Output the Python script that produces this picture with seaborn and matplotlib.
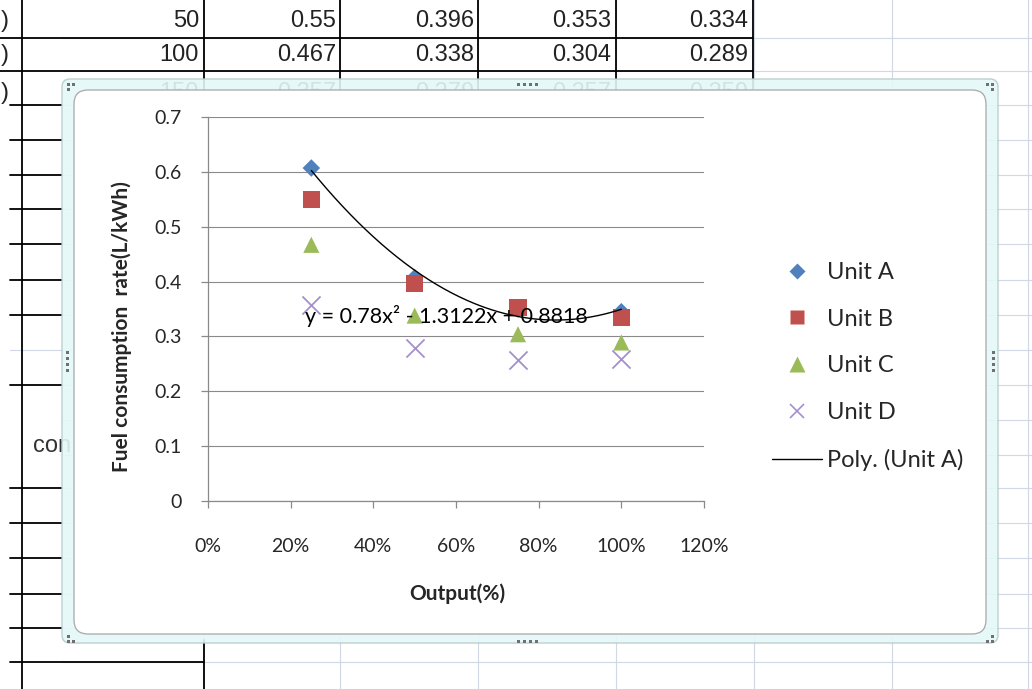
import numpy as np
import pandas as pd
import matplotlib
matplotlib.use("Agg")
import matplotlib.pyplot as plt
from matplotlib.lines import Line2D
from matplotlib.patches import FancyBboxPatch, Rectangle
from matplotlib.transforms import IdentityTransform
from matplotlib.ticker import FuncFormatter, MultipleLocator
import seaborn as sns

sns.set_style("white")
plt.rcParams['font.family'] = ['Lato', 'DejaVu Sans']

# Data (output fraction vs fuel rate)
output = [0.25, 0.50, 0.75, 1.00]
unit_a = [0.607, 0.407, 0.350, 0.345]
unit_b = [0.55, 0.396, 0.353, 0.334]
unit_c = [0.467, 0.338, 0.304, 0.289]
unit_d = [0.357, 0.279, 0.257, 0.259]
units = ["Unit A", "Unit B", "Unit C", "Unit D"]

# spreadsheet rows visible above the chart
table_loads = [50, 100, 150]
table_rows = [unit_b, unit_c, unit_d]

colors = {"Unit A": "#4f81bd", "Unit B": "#c0504d",
          "Unit C": "#9bbb59", "Unit D": "#a58fcc"}
markers = {"Unit A": "D", "Unit B": "s", "Unit C": "^", "Unit D": "x"}
sizes = {"Unit A": 80, "Unit B": 150, "Unit C": 135, "Unit D": 170}

df = pd.DataFrame({"output": output * 4,
                   "rate": unit_a + unit_b + unit_c + unit_d,
                   "unit": [u for u in units for _ in output]})

W, H = 1032, 689
fig = plt.figure(figsize=(W / 100, H / 100), dpi=100)
fig.patch.set_facecolor("white")
PIX = IdentityTransform()

def hline(y, x0, x1, color, lw=0.8, z=-5):
    fig.add_artist(Line2D([x0, x1], [H - y, H - y], transform=PIX,
                          color=color, lw=lw, zorder=z))

def vline(x, y0, y1, color, lw=0.8, z=-5):
    fig.add_artist(Line2D([x, x], [H - y0, H - y1], transform=PIX,
                          color=color, lw=lw, zorder=z))

# --- spreadsheet background
grid_c = "#d0d7e5"
rows = [38, 71, 105, 140, 175, 209, 244, 280, 315, 350, 385, 420, 455,
        488, 523, 558, 594, 628, 662]
cols = [203, 340, 478, 616, 754, 892, 1028]
for y in rows:
    hline(y, 62, W, grid_c)
hline(350, 10, 62, grid_c)
for x in cols:
    vline(x, 0, H, grid_c)

hline(38, 0, 753, "black", 1.3)
hline(71, 0, 753, "black", 1.3)
vline(22, 0, H, "black", 1.3)
for x in [204, 340, 478, 616, 753]:
    vline(x, 0, 110, "black", 1.3)
for y in [105, 140, 175, 209, 244, 280, 315, 385, 488, 523, 558, 594, 628]:
    hline(y, 10, 62, "black", 1.3)
hline(662, 10, 204, "black", 1.3)
vline(204, 640, H, "black", 1.3)

cell_font = ['Liberation Sans', 'DejaVu Sans']
col_right = [199, 336, 474, 611, 748]
for r, (load, vals) in enumerate(zip(table_loads, table_rows)):
    yc = H - (21 + 34 * r + (4 if r == 2 else 0))
    cells = [str(load)] + [str(v) for v in vals]
    for xr, s in zip(col_right, cells):
        fig.text(xr / W, yc / H, s, ha="right", va="center", fontsize=17,
                 family=cell_font, color="#222222", zorder=-4)
    fig.text(1 / W, yc / H, ")", ha="left", va="center", fontsize=17,
             family=cell_font, color="#222222", zorder=-4)
fig.text(33 / W, 1 - 446 / H, "con", ha="left", va="center", fontsize=17,
         family=cell_font, color="#333333", zorder=-4)

# --- chart frame
outer = FancyBboxPatch((62, H - 643), 936, 564, boxstyle="round,pad=0,rounding_size=8",
                       transform=PIX, facecolor="#e4f8f8", edgecolor="#b8caca",
                       lw=1, alpha=0.9, zorder=-2)
inner = FancyBboxPatch((74, H - 634), 912, 544, boxstyle="round,pad=0,rounding_size=14",
                       transform=PIX, facecolor="white", edgecolor="#a8a8a8",
                       lw=0.9, zorder=-1)
fig.add_artist(outer)
fig.add_artist(inner)

def dots(pts):
    for px, py in pts:
        fig.add_artist(Rectangle((px - 1.5, H - py - 1.5), 3, 3, transform=PIX,
                                 facecolor="#707070", edgecolor="none", zorder=-1))

dots([(68, 84), (73, 84), (68, 89), (68, 636), (68, 641), (73, 641),
      (992, 84), (987, 84), (992, 89), (992, 636), (992, 641), (987, 641)])
dots([(518 + 6 * i, 641) for i in range(4)])
dots([(518 + 6 * i, 84) for i in range(4)])
dots([(67, 352 + 6 * i) for i in range(4)])
dots([(993, 352 + 6 * i) for i in range(4)])

# --- plot area
ax = fig.add_axes([208 / W, 1 - 501 / H, 496 / W, 384 / H])
ax.set_facecolor("white")

for u in units:
    sub = df[df["unit"] == u]
    kw = dict(linewidth=1.3) if markers[u] == "x" else dict(edgecolor="none")
    sns.scatterplot(data=sub, x="output", y="rate", color=colors[u],
                    marker=markers[u], s=sizes[u], ax=ax, zorder=3, **kw)

coef = np.polyfit(output, unit_a, 2)
xs = np.linspace(min(output), max(output), 200)
ax.plot(xs, np.polyval(coef, xs), color="black", lw=1.0, zorder=4)
ax.text(0.2347, 0.337, "y = 0.78x² - 1.3122x + 0.8818", fontsize=15.5,
        va="center", ha="left", color="black", zorder=5)

ax.set_xlim(0, 1.2)
ax.set_ylim(0, 0.7)
ax.xaxis.set_major_locator(MultipleLocator(0.2))
ax.yaxis.set_major_locator(MultipleLocator(0.1))
ax.xaxis.set_major_formatter(FuncFormatter(lambda v, p: f"{v * 100:.0f}%"))
ax.yaxis.set_major_formatter(FuncFormatter(lambda v, p: "0" if v == 0 else f"{v:.1f}"))

axc = "#8a8a8a"
ax.yaxis.grid(True, color=axc, lw=0.8)
ax.xaxis.grid(False)
for s in ["top", "right"]:
    ax.spines[s].set_visible(False)
for s in ["left", "bottom"]:
    ax.spines[s].set_color(axc)
    ax.spines[s].set_linewidth(0.9)
ax.tick_params(axis="y", direction="out", length=5, width=0.9, color=axc,
               pad=14, labelsize=14, left=True)
ax.tick_params(axis="x", direction="out", length=5, width=0.9, color=axc,
               pad=22, labelsize=14, bottom=True)

ax.set_xlabel("Output(%)", fontsize=15, fontweight="bold")
ax.set_ylabel("Fuel consumption  rate(L/kWh)", fontsize=15, fontweight="bold")
ax.xaxis.set_label_coords(0.502, -0.2135)
ax.yaxis.set_label_coords(-0.153, 0.453)
ax.xaxis.label.set_va("top")

handles = [Line2D([], [], ls="none", marker="D", ms=8.5, color=colors["Unit A"], mec="none"),
           Line2D([], [], ls="none", marker="s", ms=10, color=colors["Unit B"], mec="none"),
           Line2D([], [], ls="none", marker="^", ms=11, color=colors["Unit C"], mec="none"),
           Line2D([], [], ls="none", marker="x", ms=10, mew=1.2, color=colors["Unit D"]),
           Line2D([], [], color="black", lw=1.0)]
labels = units + ["Poly. (Unit A)"]
fig.legend(handles, labels, loc="upper left", bbox_to_anchor=(772 / W, 1 - 262 / H),
           frameon=False, fontsize=17, handlelength=2.1, handletextpad=0.25,
           labelspacing=1.09, borderpad=0, borderaxespad=0)

fig.savefig("out.png", dpi=100)
